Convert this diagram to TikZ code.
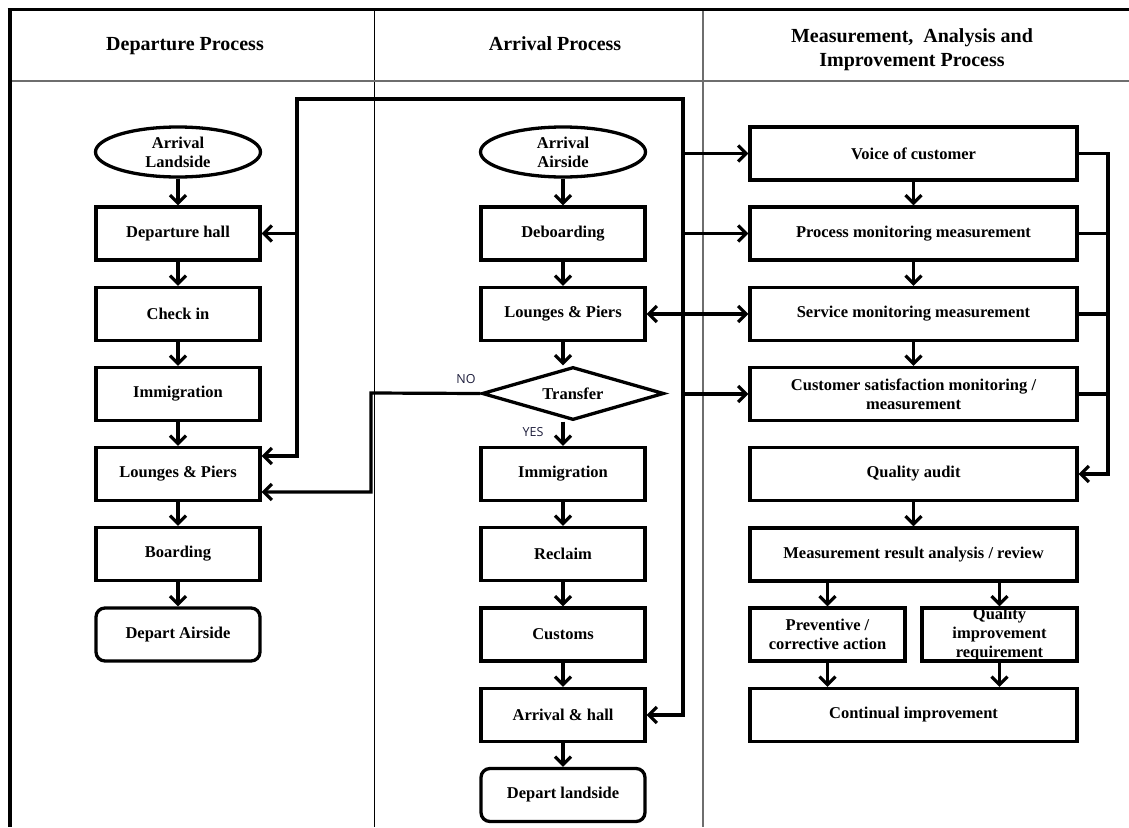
\documentclass[tikz,border=0pt]{standalone}
\usepackage{fontspec}
\setmainfont{Liberation Serif}
\newfontfamily\labfont{Open Sans}
\usetikzlibrary{shapes.geometric,arrows.meta}
\definecolor{framegray}{RGB}{110,110,110}
\definecolor{labc}{RGB}{30,30,60}
\begin{document}
\begin{tikzpicture}[x=1pt,y=-1pt,
  txt/.style={font=\bfseries\fontsize{16.5}{19}\selectfont, align=center, text=black},
  head/.style={font=\bfseries\fontsize{20}{24}\selectfont, align=center, text=black},
  box/.style={txt, draw, line width=3.3pt, rectangle, minimum width=164pt, minimum height=53pt, inner sep=2pt},
  wbox/.style={box, minimum width=327pt},
  sbox/.style={box, minimum width=155pt},
  rbox/.style={box, rounded corners=9pt},
  oval/.style={txt, draw, line width=3.3pt, ellipse, minimum width=165pt, minimum height=50pt, inner sep=0pt},
  dia/.style={txt, draw, line width=3.3pt, diamond, aspect=3.4, minimum width=182pt, minimum height=53pt, inner sep=0pt},
  conn/.style={line width=3.2pt},
  arr/.style={conn, -{Straight Barb[length=8pt,width=16pt]}},
  arrboth/.style={conn, {Straight Barb[length=8pt,width=16pt]}-{Straight Barb[length=8pt,width=16pt]}},
  lab/.style={font=\labfont\fontsize{12.5}{14}\selectfont, text=labc, inner sep=0pt}
]
\useasboundingbox (0,0) rectangle (1129,827);
% frame
\draw[line width=1.4pt] (374.5,9) -- (374.5,827);
\draw[line width=2.2pt, framegray] (703,9) -- (703,827);
\draw[line width=2.2pt, framegray] (9,81) -- (1129,81);
\draw[line width=3.2pt] (7.5,9.5) -- (1129,9.5);
\draw[line width=4pt] (9.5,8) -- (9.5,827);
% headers
\node[head, anchor=base] (h1) at (185,50) {Departure Process};
\node[head, anchor=base] (h2) at (555,50) {Arrival Process};
\node[head] (h3) at (912,50) {Measurement,\ \ Analysis and\\Improvement Process};
% left column
\node[oval] (l0) at (178,152) {Arrival\\Landside};
\node[box] (l1) at (178,233.5) {Departure hall};
\node[box] (l2) at (178,314) {Check in};
\node[box] (l3) at (178,394) {Immigration};
\node[box] (l4) at (178,474) {Lounges \& Piers};
\node[box] (l5) at (178,554) {Boarding};
\node[rbox] (l6) at (178,634.5) {Depart Airside};
% middle column
\node[oval] (m0) at (563,152) {Arrival\\Airside};
\node[box] (m1) at (563,233.5) {Deboarding};
\node[box] (m2) at (563,314) {Lounges \& Piers};
\node[dia] (m3) at (573,393.5) {Transfer};
\node[box] (m4) at (563,474) {Immigration};
\node[box] (m5) at (563,554) {Reclaim};
\node[box] (m6) at (563,634.5) {Customs};
\node[box] (m7) at (563,715) {Arrival \& hall};
\node[rbox] (m8) at (563,795) {Depart landside};
% right column
\node[wbox] (r1) at (913.5,153.5) {Voice of customer};
\node[wbox] (r2) at (913.5,233.5) {Process monitoring measurement};
\node[wbox] (r3) at (913.5,314) {Service monitoring measurement};
\node[wbox] (r4) at (913.5,394) {Customer satisfaction monitoring /\\measurement};
\node[wbox] (r5) at (913.5,474) {Quality audit};
\node[wbox] (r6) at (913.5,554.5) {Measurement result analysis / review};
\node[sbox] (r7) at (827.5,634.5) {Preventive /\\corrective action};
\node[sbox, inner sep=0pt] (r8) at (999.5,634.5) {Quality\\improvement\\requirement};
\node[wbox] (r9) at (913.5,715) {Continual improvement};
% labels
\node[lab] (no) at (466,379) {NO};
\node[lab] (yes) at (533,432) {YES};
% coordinates
\coordinate (lpL) at (297,99);
\coordinate (lpR) at (683,99);
\coordinate (noB) at (371,393);
\coordinate (rR) at (1108,153.5);
% left flow
\draw[arr] (l0.south) -- (l1.north);
\draw[arr] (l1.south) -- (l2.north);
\draw[arr] (l2.south) -- (l3.north);
\draw[arr] (l3.south) -- (l4.north);
\draw[arr] (l4.south) -- (l5.north);
\draw[arr] (l5.south) -- (l6.north);
% middle flow
\draw[arr] (m0.south) -- (m1.north);
\draw[arr] (m1.south) -- (m2.north);
\draw[arr] (m2.south) -- (m2.south |- m3.north);
\draw[arr] (m4.north |- m3.south) -- (m4.north);
\draw[arr] (m4.south) -- (m5.north);
\draw[arr] (m5.south) -- (m6.north);
\draw[arr] (m6.south) -- (m7.north);
\draw[arr] (m7.south) -- (m8.north);
% NO branch
\draw[arr] (m3.west) -- (noB) |- ([yshift=-18pt]l4.east);
% big loop
\draw[arrboth] ([yshift=18pt]l4.east) -| (lpL) -- (lpR) |- (m7.east);
\draw[arr] (l1.east -| lpL) -- (l1.east);
\draw[arr] (r1.west -| lpR) -- (r1.west);
\draw[arr] (r2.west -| lpR) -- (r2.west);
\draw[arr] (r4.west -| lpR) -- (r4.west);
\draw[arrboth] (m2.east) -- (r3.west);
% right flow
\draw[arr] (r1.south) -- (r2.north);
\draw[arr] (r2.south) -- (r3.north);
\draw[arr] (r3.south) -- (r4.north);
\draw[arr] (r5.south) -- (r6.north);
\draw[arr] (r7.north |- r6.south) -- (r7.north);
\draw[arr] (r8.north |- r6.south) -- (r8.north);
\draw[arr] (r7.south) -- (r7.south |- r9.north);
\draw[arr] (r8.south) -- (r8.south |- r9.north);
% right feedback
\draw[arr] (r1.east) -- (rR) |- (r5.east);
\draw[conn] (r2.east) -- (r2.east -| rR);
\draw[conn] (r3.east) -- (r3.east -| rR);
\draw[conn] (r4.east) -- (r4.east -| rR);
\end{tikzpicture}
\end{document}
